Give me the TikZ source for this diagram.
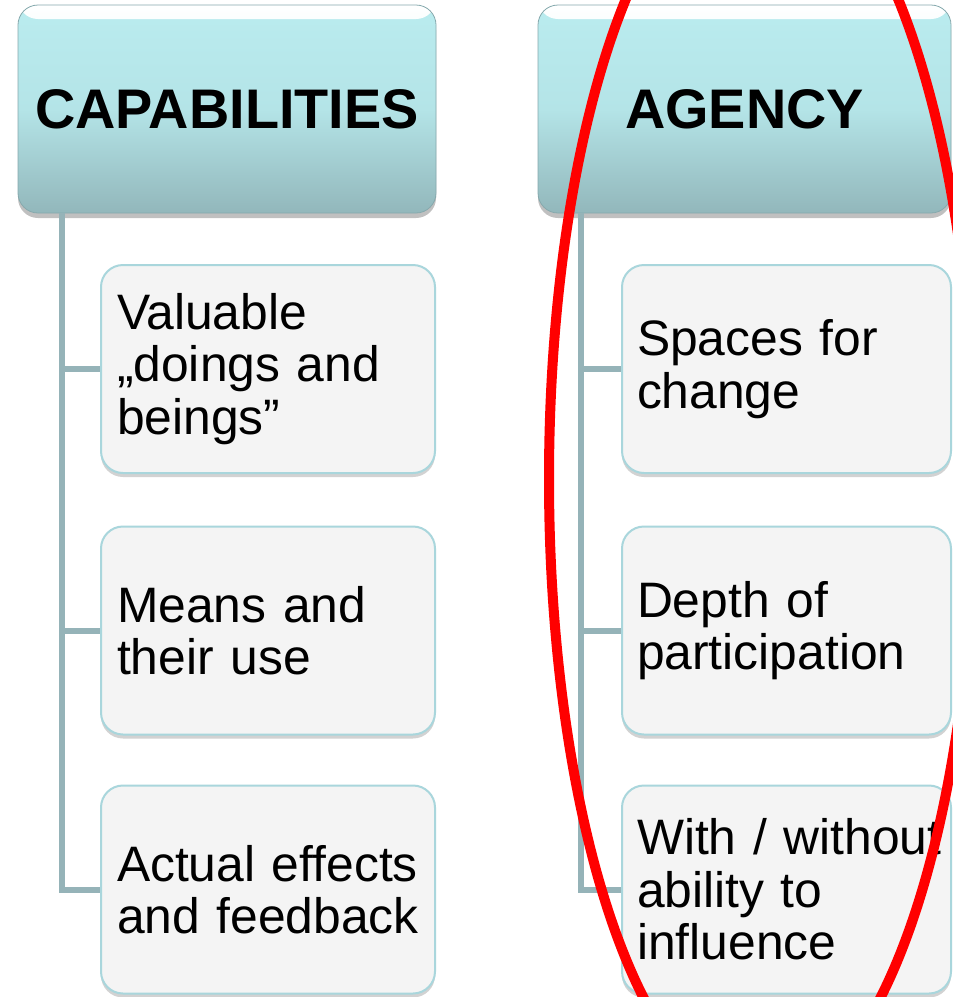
\documentclass[tikz,border=0pt]{standalone}
\usepackage{fontspec}
\setmainfont{Liberation Sans}
\usetikzlibrary{shadows}
\definecolor{hdtop}{HTML}{BAECEF}
\definecolor{hdbot}{HTML}{92B7BB}
\definecolor{hdline}{HTML}{86A9AD}
\definecolor{boxfill}{HTML}{F4F4F4}
\definecolor{boxline}{HTML}{A9D6DC}
\definecolor{connc}{HTML}{95B3B8}
\definecolor{ringred}{HTML}{FF0000}

\begin{document}
\begin{tikzpicture}[x=0.5pt,y=-0.5pt,
  header/.style={rectangle, rounded corners=10pt, top color=hdtop, bottom color=hdbot,
    middle color=hdtop!85!hdbot, draw=hdline, line width=0.4pt,
    minimum height=104pt, inner sep=0pt,
    font=\fontsize{27.9}{30}\selectfont\bfseries,
    drop shadow={shadow xshift=0pt, shadow yshift=-2.5pt, opacity=0.35, fill=black!70},
    path picture={\shade[top color=white, bottom color=hdtop]
      (path picture bounding box.north west) rectangle
      ([yshift=-7pt]path picture bounding box.north east);}},
  leaf/.style={rectangle, rounded corners=11pt, fill=boxfill, draw=boxline, line width=1pt,
    minimum height=104pt, inner ysep=0pt, align=left,
    font=\fontsize{24.9}{26.2}\selectfont,
    drop shadow={shadow xshift=0pt, shadow yshift=-2pt, opacity=0.25, fill=black!70}},
  leafl/.style={leaf, inner xsep=8pt, text width=151pt},
  leafr/.style={leaf, inner xsep=7.5pt, text width=149.5pt},
  conn/.style={draw=connc, line width=3pt, line join=miter}]

  \useasboundingbox (0,0) rectangle (953,997);
  \fill[white] (0,0) rectangle (953,997);

  % column headers
  \node[header, minimum width=209pt] (hl) at (227,109) {CAPABILITIES};
  \node[header, minimum width=206.5pt] (hr) at (744.5,109) {AGENCY};

  % left column
  \node[leafl] (l1) at (268,369) {Valuable\\„doings and\\beings”};
  \node[leafl] (l2) at (268,630.5) {Means and\\their use};
  \node[leafl] (l3) at (268,889.5) {\mbox{Actual effects}\\\mbox{and feedback}};

  % right column
  \node[leafr] (r1) at (786.5,369) {Spaces for\\change};
  \node[leafr] (r2) at (786.5,630.5) {Depth of\\participation};
  \node[leafr] (r3) at (786.5,889.5) {\mbox{With / without}\\ability to\\influence};

  % tree connectors
  \foreach \c in {l1,l2,l3}
    \draw[conn] ([xshift=22pt]hl.south west) |- (\c.west);
  \foreach \c in {r1,r2,r3}
    \draw[conn] ([xshift=21.5pt]hr.south west) |- (\c.west);

  % red ring round the agency column
  \begin{scope}
    \clip (0,0) rectangle (953,997);
    \draw[ringred, line width=5pt] (762,479) ellipse [x radius=106.5pt, y radius=312pt];
  \end{scope}
\end{tikzpicture}
\end{document}
